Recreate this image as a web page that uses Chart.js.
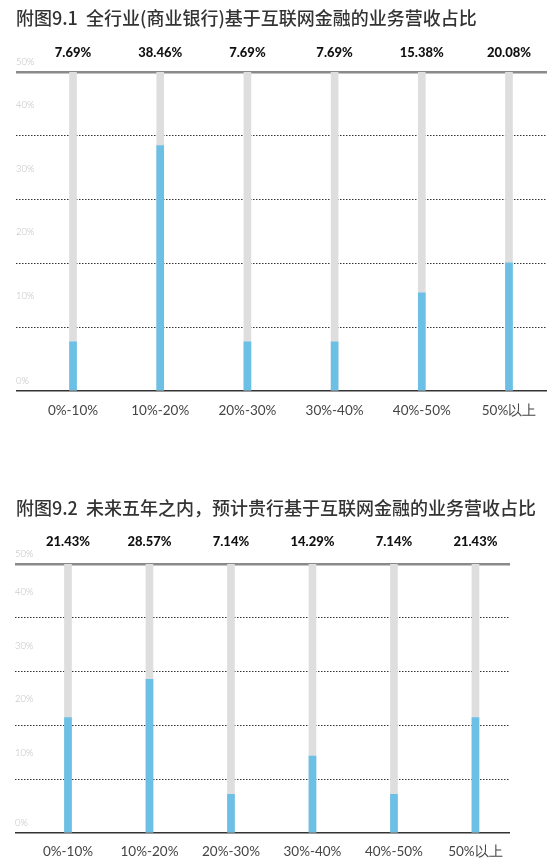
<!DOCTYPE html>
<html>
<head>
<meta charset="utf-8">
<script src="https://cdn.jsdelivr.net/npm/chart.js@4.4.1/dist/chart.umd.min.js"></script>
<style>
  body {
    margin: 0;
    width: 560px;
    height: 867px;
    background: #fff;
    position: relative;
    overflow: hidden;
    font-family: "Noto Sans CJK SC", sans-serif;
  }
  .title {
    position: absolute;
    left: 16px;
    font-size: 18px;
    line-height: 22px;
    color: #333;
    font-weight: 500;
    white-space: nowrap;
  }
  .box {
    position: absolute;
    left: 0;
    width: 560px;
  }
</style>
</head>
<body>
<div class="box" style="top:20px;height:420px"><canvas id="chart1"></canvas></div>
<div class="title" style="top:6px">附图9.1&nbsp;&nbsp;全行业(商业银行)基于互联网金融的业务营收占比</div>
<div class="box" style="top:510px;height:362px"><canvas id="chart2"></canvas></div>
<div class="title" style="top:496px">附图9.2&nbsp;&nbsp;未来五年之内，预计贵行基于互联网金融的业务营收占比</div>

<script>
// Categories (revenue share bands)
const CATEGORIES = ["0%-10%", "10%-20%", "20%-30%", "30%-40%", "40%-50%", "50%以上"];

// Share of respondents per band (%)
const CURRENT_SHARE = [7.69, 38.46, 7.69, 7.69, 15.38, 20.08];
const FUTURE_SHARE = [21.43, 28.57, 7.14, 14.29, 7.14, 21.43];

// Value axis
const Y_MAX = 50;
const Y_STEP = 10;

const BAR_COLOR = "#6cc0e5";
const TRACK_COLOR = "#dedede";

// Build one of the two bar charts
function makeChart(id, values, layout) {
  const canvas = document.getElementById(id);

  // bars sit on integer positions of a linear x scale
  const points = values.map((v, i) => ({ x: i, y: v }));
  const track = values.map((v, i) => ({ x: i, y: Y_MAX }));
  const indexTicks = (axis) => {
    axis.ticks = CATEGORIES.map((c, i) => ({ value: i }));
  };

  const tickVal = (c) => (c.tick ? c.tick.value : null);
  const lineColor = (c) => {
    const v = tickVal(c);
    if (v === 0) return "#333";
    if (v === Y_MAX) return "#8a8a8a";
    return "#333";
  };
  const lineWidth = (c) => {
    const v = tickVal(c);
    if (v === 0) return 1.5;
    if (v === Y_MAX) return 2.5;
    return 1;
  };

  return new Chart(canvas, {
    type: "bar",
    data: {
      datasets: [
        {
          data: points,
          backgroundColor: BAR_COLOR,
          barThickness: 7,
          grouped: false,
        },
        {
          data: track,
          backgroundColor: TRACK_COLOR,
          barThickness: 7,
          grouped: false,
        },
      ],
    },
    options: {
      responsive: true,
      maintainAspectRatio: false,
      animation: false,
      layout: { padding: layout.padding },
      plugins: {
        legend: { display: false },
        tooltip: { enabled: false },
      },
      scales: {
        x: {
          type: "linear",
          position: "bottom",
          offset: false,
          min: layout.xMin,
          max: layout.xMax,
          afterBuildTicks: indexTicks,
          grid: { display: false, drawTicks: false, offset: false },
          border: { display: false },
          ticks: {
            autoSkip: false,
            maxRotation: 0,
            padding: layout.xPad,
            color: "#444",
            font: { family: "Lato", size: 13.5, weight: 400 },
            callback: (v) => CATEGORIES[v],
          },
        },
        xTop: {
          type: "linear",
          axis: "x",
          position: "top",
          offset: false,
          min: layout.xMin,
          max: layout.xMax,
          afterBuildTicks: indexTicks,
          grid: { display: false, drawTicks: false, offset: false },
          border: { display: false },
          ticks: {
            autoSkip: false,
            maxRotation: 0,
            padding: layout.topPad,
            color: "#111",
            font: { family: "Lato", size: 13, weight: 900 },
            callback: (v) => values[v].toFixed(2) + "%",
          },
        },
        y: {
          min: 0,
          max: Y_MAX,
          grid: {
            drawTicks: false,
            color: lineColor,
            lineWidth: lineWidth,
          },
          border: {
            display: false,
            dash: (c) => {
              const v = tickVal(c);
              return v === 0 || v === Y_MAX ? [] : [1.5, 1.5];
            },
          },
          ticks: {
            stepSize: Y_STEP,
            autoSkip: false,
            mirror: true,
            padding: 0,
            labelOffset: -10,
            color: "#bdbdbd",
            font: { family: "Lato", size: 9.5, weight: 300, lineHeight: layout.yLine + "px" },
            // middle labels float between grid lines
            callback: (v) => (v === 0 || v === Y_MAX ? v + "%" : [v + "%", "", ""]),
          },
        },
      },
    },
  });
}

makeChart("chart1", CURRENT_SHARE, {
  padding: { top: 14, left: 16, right: 13, bottom: 9 },
  xMin: -0.654,
  xMax: 5.436,
  topPad: 11.2,
  xPad: 12,
  yLine: 21,
});

makeChart("chart2", FUTURE_SHARE, {
  padding: { top: 10, left: 15, right: 50, bottom: 1 },
  xMin: -0.65,
  xMax: 5.424,
  topPad: 14.2,
  xPad: 11,
  yLine: 16,
});
</script>
</body>
</html>
